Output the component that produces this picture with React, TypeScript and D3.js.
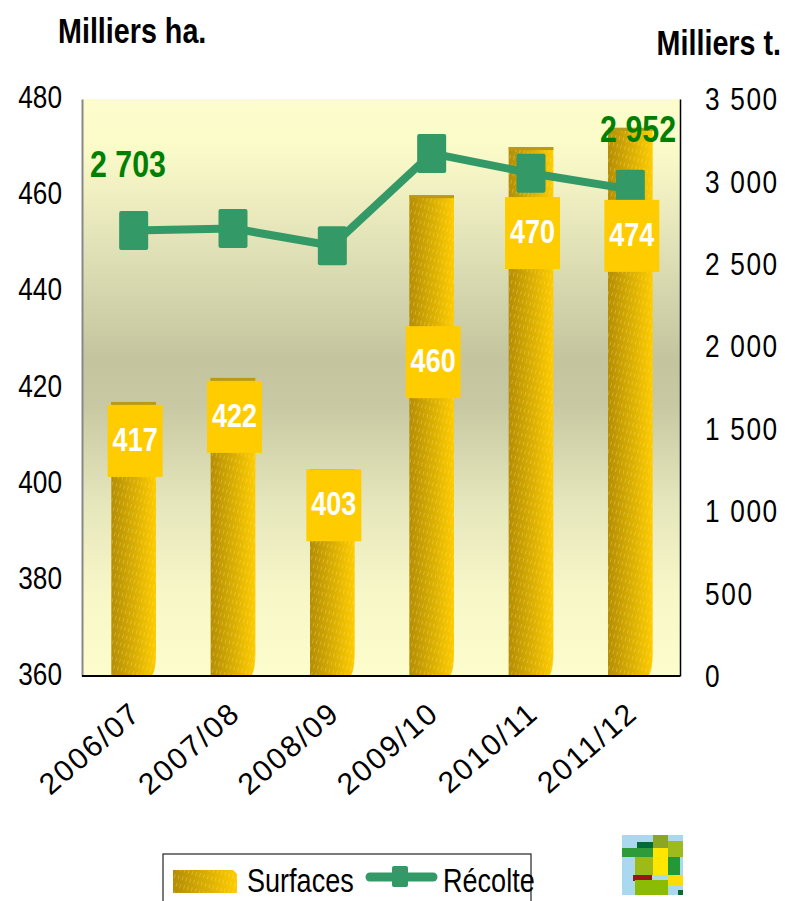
import React, { useEffect, useRef } from "react";
import * as d3 from "d3";

// campagnes
const seasons = ["2006/07", "2007/08", "2008/09", "2009/10", "2010/11", "2011/12"];
// surfaces, milliers ha (barres, axe gauche)
const surfaces = [417, 422, 403, 460, 470, 474];
// récolte, milliers t (ligne, axe droit)
const recolte = [2703, 2715, 2610, 3170, 3050, 2952];
const haTicks = [360, 380, 400, 420, 440, 460, 480];
const tTicks = [0, 500, 1000, 1500, 2000, 2500, 3000, 3500];
// points de la récolte dont la valeur est écrite
const recolteLabelled = ["2006/07", "2011/12"];

// pas de police étroite installée : on resserre Liberation Sans
const SANS = "'Liberation Sans', Arial, sans-serif";
const SX = 0.82;
const GREEN = "#339966";

const fr = d3.formatLocale({
  decimal: ",",
  thousands: " ",
  grouping: [3],
  currency: ["", " €"],
});
const fmt = fr.format(",d");

const App = () => {
  const svgEl = useRef<SVGSVGElement>(null);

  useEffect(() => {
    if (!svgEl.current) return;
    drawChart(svgEl.current);
  }, []);

  return (
    <svg
      ref={svgEl}
      width={785}
      height={901}
      style={{ position: "absolute", left: 0, top: 0, background: "#fff" }}
    />
  );
};

function addText(g: any, x: number, y: number, str: string, size: number, opts: any = {}) {
  return g
    .append("text")
    .attr("transform", `translate(${x},${y}) scale(${SX},1)`)
    .attr("font-family", SANS)
    .attr("font-size", size)
    .attr("font-weight", opts.bold ? "bold" : "normal")
    .attr("text-anchor", opts.anchor || "start")
    .attr("fill", opts.fill || "#000")
    .text(str);
}

function drawChart(el: SVGSVGElement) {
  const svg = d3.select(el);
  svg.selectAll("*").remove();

  const left = 82;
  const right = 680;
  const top = 99;
  const bottom = 676;

  const x = d3.scaleBand().domain(seasons).range([84, right]).paddingInner(0.55).paddingOuter(0.275);
  const yL = d3.scaleLinear().domain([360, 480]).range([bottom, top]);
  const yR = d3.scaleLinear().domain([0, 3500]).range([bottom, top]);
  const cx = (s: string) => x(s)! + x.bandwidth() / 2;

  const defs = svg.append("defs");

  const bg = defs.append("linearGradient").attr("id", "bg").attr("x1", 0).attr("y1", 0).attr("x2", 0).attr("y2", 1);
  [
    [0, "#fcfccc"],
    [0.08, "#fbfbca"],
    [0.28, "#dedeb5"],
    [0.45, "#c4c59e"],
    [0.53, "#c8c9a2"],
    [0.7, "#e6e6bc"],
    [0.86, "#f7f7c8"],
    [1, "#fcfccd"],
  ].forEach(([o, c]) => bg.append("stop").attr("offset", o as number).attr("stop-color", c as string));

  const gold = defs.append("linearGradient").attr("id", "gold").attr("x1", 0).attr("y1", 0).attr("x2", 1).attr("y2", 0);
  [
    [0, "#b48d05"],
    [0.45, "#d4aa03"],
    [1, "#ffcc00"],
  ].forEach(([o, c]) => gold.append("stop").attr("offset", o as number).attr("stop-color", c as string));

  const streaks = defs
    .append("pattern")
    .attr("id", "streaks")
    .attr("patternUnits", "userSpaceOnUse")
    .attr("width", 4)
    .attr("height", 8)
    .attr("patternTransform", "rotate(16)");
  streaks
    .append("line")
    .attr("x1", 1.5)
    .attr("y1", 0)
    .attr("x2", 1.5)
    .attr("y2", 4)
    .attr("stroke", "rgba(255,236,140,0.3)")
    .attr("stroke-width", 1);

  // zone de tracé
  svg.append("rect").attr("x", left).attr("y", top).attr("width", right - left).attr("height", bottom - top).attr("fill", "url(#bg)");

  const barPath = (x0: number, x1: number, y0: number, y1: number) =>
    `M${x0},${y0}H${x1}V${y1 - 24}Q${x1},${y1 - 6} ${x1 - 4},${y1}H${x0}Z`;

  const bars = svg.append("g");
  seasons.forEach((s, i) => {
    const x0 = x(s)!;
    const x1 = x0 + x.bandwidth();
    const y0 = yL(surfaces[i]);
    bars.append("path").attr("d", barPath(x0, x1, y0, bottom)).attr("fill", "url(#gold)");
    bars.append("path").attr("d", barPath(x0, x1, y0, bottom)).attr("fill", "url(#streaks)");
    bars.append("rect").attr("x", x0).attr("y", y0).attr("width", x1 - x0).attr("height", 3).attr("fill", "#b89a1a");
  });

  // ligne récolte
  const line = d3
    .line<number>()
    .x((_, i) => cx(seasons[i]))
    .y((d) => yR(d));
  svg
    .append("path")
    .datum(recolte)
    .attr("d", line)
    .attr("fill", "none")
    .attr("stroke", GREEN)
    .attr("stroke-width", 8)
    .attr("stroke-linejoin", "round");

  svg
    .append("g")
    .selectAll("rect")
    .data(recolte)
    .join("rect")
    .attr("x", (_, i) => cx(seasons[i]) - 14.5)
    .attr("y", (d) => yR(d) - 19.5)
    .attr("width", 29)
    .attr("height", 39)
    .attr("rx", 2)
    .attr("fill", GREEN);

  // étiquettes des surfaces (décalées sous la ligne quand il le faut)
  const labelDrop = [3, 3, 0, 131, 50, 72];
  const lab = svg.append("g");
  seasons.forEach((s, i) => {
    const lx = cx(s) + 1.5;
    const ty = yL(surfaces[i]) + labelDrop[i];
    lab.append("rect").attr("x", lx - 27.5).attr("y", ty).attr("width", 55).attr("height", 72).attr("fill", "#ffcc00");
    addText(lab, lx, ty + 46, String(surfaces[i]), 33, { bold: true, anchor: "middle", fill: "#fff" });
  });

  // valeurs de récolte
  addText(svg, 90, 177, fmt(recolte[seasons.indexOf(recolteLabelled[0])]), 37, { bold: true, fill: "#008000" });
  addText(svg, 676, 142, fmt(recolte[seasons.indexOf(recolteLabelled[1])]), 37, {
    bold: true,
    fill: "#008000",
    anchor: "end",
  });

  const squeeze = (g: any) =>
    g.selectAll("text").each(function (this: SVGTextElement) {
      const tx = +(this.getAttribute("x") || 0);
      d3.select(this).attr("x", 0).attr("transform", `translate(${tx},0) scale(${SX},1)`);
    });

  // axes
  const axL = svg
    .append("g")
    .attr("transform", `translate(${left},0)`)
    .call(d3.axisLeft(yL).tickValues(haTicks).tickSize(0).tickSizeOuter(0).tickPadding(20));
  axL.select(".domain").attr("stroke", "#888").attr("stroke-width", 2);
  axL.selectAll("text").attr("font-family", SANS).attr("font-size", 32).attr("fill", "#000").attr("dy", "0.27em");
  squeeze(axL);

  const axR = svg
    .append("g")
    .attr("transform", `translate(${right},0)`)
    .call(d3.axisRight(yR).tickValues(tTicks).tickSize(0).tickSizeOuter(0).tickPadding(25).tickFormat((d) => fmt(d as number)));
  axR.select(".domain").attr("stroke", "#000").attr("stroke-width", 1.5);
  axR
    .selectAll("text")
    .attr("font-family", SANS)
    .attr("font-size", 32)
    .attr("letter-spacing", 2)
    .attr("fill", "#000")
    .attr("dy", "0.33em");
  squeeze(axR);

  svg.append("line").attr("x1", left).attr("x2", right).attr("y1", bottom).attr("y2", bottom).attr("stroke", "#000").attr("stroke-width", 2);

  svg
    .append("g")
    .selectAll("text")
    .data(seasons)
    .join("text")
    .attr("transform", (d) => `translate(${cx(d) + 9},716) rotate(-41)`)
    .attr("text-anchor", "end")
    .attr("font-family", SANS)
    .attr("font-size", 30)
    .attr("letter-spacing", 2)
    .attr("fill", "#000")
    .text((d) => d);

  // titres d'axes
  addText(svg, 58, 43, "Milliers ha.", 35, { bold: true });
  addText(svg, 781, 55, "Milliers t.", 35, { bold: true, anchor: "end" });

  // légende
  const lg = svg.append("g");
  lg.append("rect").attr("x", 163).attr("y", 854).attr("width", 368).attr("height", 70).attr("fill", "#fff").attr("stroke", "#222").attr("stroke-width", 1.2);
  lg.append("path").attr("d", "M173,870H233L237,874V893H173Z").attr("fill", "url(#gold)");
  lg.append("path").attr("d", "M173,870H233L237,874V893H173Z").attr("fill", "url(#streaks)");
  addText(lg, 247, 892, "Surfaces", 33);
  lg.append("line").attr("x1", 370).attr("x2", 433).attr("y1", 877).attr("y2", 877).attr("stroke", GREEN).attr("stroke-width", 9).attr("stroke-linecap", "round");
  lg.append("rect").attr("x", 392).attr("y", 866).attr("width", 16).attr("height", 21).attr("rx", 2).attr("fill", GREEN);
  addText(lg, 443, 892, "Récolte", 33);

  // logo
  const logo = svg.append("g");
  const blocks: [number, number, number, number, string][] = [
    [622, 835, 61, 60, "#a9d8ef"],
    [637, 842, 16, 7, "#006b35"],
    [653, 835, 15, 14, "#8aa624"],
    [668, 841, 15, 16, "#9cbc1e"],
    [622, 848, 31, 9, "#2f9a3a"],
    [653, 848, 15, 27, "#ffe600"],
    [668, 857, 12, 18, "#239834"],
    [635, 857, 18, 18, "#9dbb18"],
    [633, 875, 19, 6, "#9a1515"],
    [668, 875, 15, 10, "#ffdd00"],
    [635, 880, 33, 15, "#8cbb06"],
    [678, 890, 5, 5, "#0a6b2d"],
  ];
  blocks.forEach(([bx, by, bw, bh, c]) => logo.append("rect").attr("x", bx).attr("y", by).attr("width", bw).attr("height", bh).attr("fill", c));
}

export default App;
